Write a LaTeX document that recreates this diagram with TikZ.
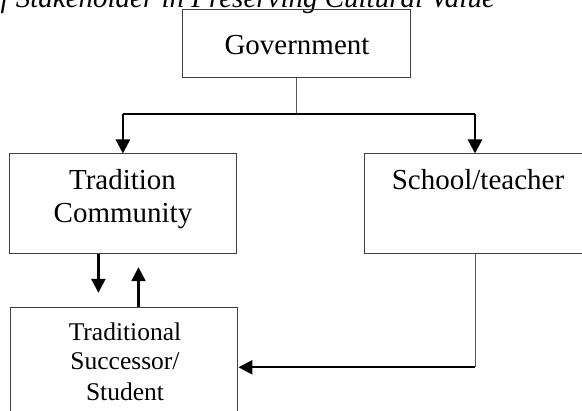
\documentclass[tikz,border=0pt]{standalone}
\usepackage{fontspec}
\setmainfont{Liberation Serif}
\usetikzlibrary{arrows.meta}
\newcommand{\bigText}{\fontsize{29}{33}\selectfont}
\newcommand{\smallText}{\fontsize{25.5}{30}\selectfont}

\begin{document}
\begin{tikzpicture}[x=1pt,y=-1pt,
  box/.style={draw=black!75, line width=1pt, inner sep=0pt},
  link/.style={draw=black!65, line width=1pt},
  bar/.style={draw=black, line width=1.5pt},
  arr/.style={draw=black, line width=2.4pt, -{Triangle[length=14pt,width=14pt]}},
  word/.style={anchor=base, inner sep=0pt}]
\useasboundingbox (0,0) rectangle (582,411);
\clip (0,0) rectangle (582,411);
% caption, cut at the top edge
\node[word, anchor=base east, font=\bigText\itshape] (caption) at (495,8) {Strategy of Stakeholder in Preserving Cultural Value};
% boxes
\node[box, minimum width=228pt, minimum height=68pt] (gov) at (296,44) {};
\node[box, minimum width=227pt, minimum height=100pt] (trad) at (122.9,204) {};
\node[box, minimum width=222pt, minimum height=100pt] (school) at (475,204) {};
\node[box, minimum width=227.5pt, minimum height=133pt] (student) at (124.2,373.8) {};
% texts
\node[word, font=\bigText] (govText) at (297,55) {Government};
\node[word, font=\bigText] (tradTextA) at (122.5,190) {Tradition};
\node[word, font=\bigText] (tradTextB) at (123,223) {Community};
\node[word, font=\bigText] (schoolText) at (478,190) {School/teacher};
\node[word, font=\smallText] (studTextA) at (125,341) {Traditional};
\node[word, font=\smallText] (studTextB) at (125,370) {Successor/};
\node[word, font=\smallText] (studTextC) at (125,401) {Student};
% connectors
\coordinate (split) at (296,114);
\coordinate (corner) at (475,367.3);
\draw[link] (gov.south) -- (split);
\draw[bar] (trad.north |- split) -- (school.north |- split);
\draw[arr] (trad.north |- split) -- (trad.north);
\draw[arr] (school.north |- split) -- (school.north);
\draw[arr] ([xshift=-24.5pt]trad.south) -- ([xshift=-25.8pt,yshift=14pt]student.north);
\draw[arr] ([xshift=14.3pt]student.north) -- ([xshift=15.6pt,yshift=-12.7pt]trad.south);
\draw[link] (school.south) -- (corner);
\draw[arr] (corner) -- (student.east |- corner);
\end{tikzpicture}
\end{document}
